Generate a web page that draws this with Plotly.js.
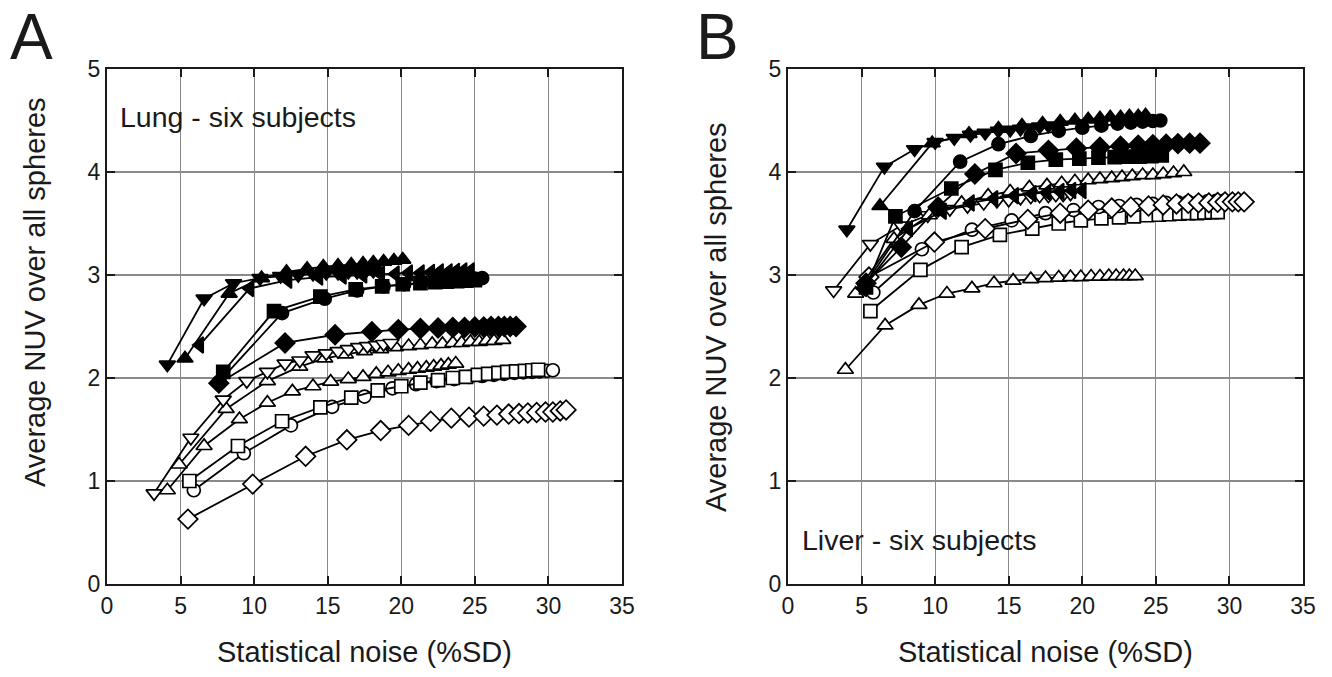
<!DOCTYPE html>
<html>
<head>
<meta charset="utf-8">
<script src="https://cdn.plot.ly/plotly-3.0.1.min.js"></script>
<style>html,body{margin:0;padding:0;background:#fff;}#chart{width:1332px;height:677px;}</style>
</head>
<body>
<div id="chart"></div>
<script>
// ---------- Panel A : Lung ----------
const lungOpenDiamondX = [5.5, 9.9, 13.5, 16.3, 18.6, 20.5, 22.0, 23.4, 24.6, 25.6, 26.5, 27.3, 28.0, 28.6, 29.2, 29.8, 30.3, 30.8, 31.2];
const lungOpenDiamondY = [0.63, 0.97, 1.24, 1.40, 1.49, 1.54, 1.58, 1.61, 1.62, 1.63, 1.64, 1.65, 1.655, 1.66, 1.665, 1.67, 1.67, 1.68, 1.69];
const lungOpenCircleX = [5.9, 9.3, 12.5, 15.3, 17.5, 19.4, 21.0, 22.4, 23.6, 24.6, 25.5, 26.3, 27.0, 27.7, 28.3, 28.9, 29.4, 29.9, 30.3];
const lungOpenCircleY = [0.91, 1.27, 1.54, 1.72, 1.82, 1.90, 1.94, 1.97, 1.99, 2.01, 2.02, 2.03, 2.04, 2.05, 2.055, 2.06, 2.065, 2.07, 2.075];
const lungOpenSquareX = [5.6, 8.9, 11.9, 14.5, 16.6, 18.4, 20.0, 21.3, 22.5, 23.5, 24.4, 25.2, 25.9, 26.6, 27.2, 27.8, 28.4, 28.9, 29.3];
const lungOpenSquareY = [1.00, 1.34, 1.58, 1.715, 1.81, 1.88, 1.92, 1.955, 1.98, 2.00, 2.01, 2.03, 2.04, 2.05, 2.06, 2.065, 2.07, 2.075, 2.08];
const lungOpenTriUpX = [4.1, 6.6, 9.0, 10.9, 12.6, 14.0, 15.2, 16.4, 17.4, 18.3, 19.1, 19.8, 20.5, 21.1, 21.7, 22.2, 22.7, 23.2, 23.7];
const lungOpenTriUpY = [0.91, 1.34, 1.60, 1.76, 1.87, 1.92, 1.965, 1.99, 2.01, 2.04, 2.055, 2.07, 2.08, 2.09, 2.10, 2.11, 2.12, 2.13, 2.14];
const lungOpenTriDownX = [3.2, 5.7, 7.9, 9.5, 10.9, 12.1, 13.1, 14.0, 14.9, 15.7, 16.4, 17.1, 17.7, 18.3, 18.8, 19.3];
const lungOpenTriDownY = [0.88, 1.42, 1.79, 1.97, 2.06, 2.14, 2.17, 2.22, 2.24, 2.26, 2.28, 2.30, 2.31, 2.32, 2.33, 2.34];
const lungOpenTriUp2X = [4.9, 8.1, 10.9, 13.1, 14.8, 16.2, 17.5, 18.6, 19.6, 20.5, 21.3, 22.1, 22.8, 23.5, 24.1, 24.7, 25.3, 25.8, 26.3, 26.9];
const lungOpenTriUp2Y = [1.16, 1.70, 1.97, 2.11, 2.19, 2.23, 2.26, 2.28, 2.30, 2.31, 2.32, 2.33, 2.33, 2.34, 2.34, 2.35, 2.35, 2.36, 2.36, 2.37];
const lungFillDiamondX = [7.6, 12.1, 15.5, 18.0, 19.8, 21.3, 22.5, 23.5, 24.3, 25.0, 25.6, 26.1, 26.6, 27.0, 27.4, 27.8];
const lungFillDiamondY = [1.95, 2.34, 2.42, 2.45, 2.47, 2.48, 2.485, 2.49, 2.49, 2.495, 2.495, 2.50, 2.50, 2.50, 2.50, 2.50];
const lungFillCircleX = [7.6, 11.9, 14.8, 17.0, 18.8, 20.2, 21.4, 22.4, 23.2, 23.9, 24.5, 25.0, 25.5];
const lungFillCircleY = [1.96, 2.63, 2.77, 2.85, 2.89, 2.91, 2.93, 2.94, 2.95, 2.955, 2.96, 2.965, 2.97];
const lungFillSquareX = [7.9, 11.35, 14.5, 16.9, 18.7, 20.1, 21.3, 22.3, 23.1, 23.8, 24.4, 25.0];
const lungFillSquareY = [2.06, 2.65, 2.79, 2.86, 2.89, 2.91, 2.92, 2.93, 2.935, 2.94, 2.945, 2.95];
const lungFillTriDownX = [4.1, 6.6, 8.6, 10.4, 11.8, 13.0, 14.0, 14.9, 15.7, 16.4, 17.0, 17.6, 18.1];
const lungFillTriDownY = [2.13, 2.77, 2.92, 2.97, 2.99, 3.00, 3.01, 3.02, 3.02, 3.03, 3.03, 3.04, 3.04];
const lungFillTriUpX = [5.3, 8.3, 10.5, 12.2, 13.6, 14.7, 15.7, 16.6, 17.4, 18.1, 18.8, 19.5, 20.1];
const lungFillTriUpY = [2.19, 2.82, 2.97, 3.03, 3.06, 3.08, 3.09, 3.10, 3.11, 3.12, 3.13, 3.14, 3.15];
const lungFillTriLeftX = [6.3, 9.7, 12.3, 14.4, 16.0, 17.4, 18.6, 19.6, 20.5, 21.3, 22.0, 22.6, 23.2, 23.7, 24.2, 24.7];
const lungFillTriLeftY = [2.32, 2.87, 2.95, 2.98, 2.99, 3.00, 3.01, 3.01, 3.02, 3.02, 3.025, 3.03, 3.03, 3.035, 3.04, 3.04];

// ---------- Panel B : Liver ----------
const liverOpenTriDownX = [3.1, 5.6, 7.7, 9.5, 11.0, 12.2, 13.3, 14.2, 15.0, 15.8, 16.5, 17.1, 17.7, 18.2, 18.7, 19.2];
const liverOpenTriDownY = [2.85, 3.30, 3.48, 3.58, 3.64, 3.67, 3.70, 3.72, 3.73, 3.75, 3.76, 3.77, 3.77, 3.78, 3.78, 3.79];
const liverOpenTriUpX = [3.9, 6.6, 8.9, 10.8, 12.5, 14.0, 15.3, 16.5, 17.5, 18.4, 19.2, 19.9, 20.6, 21.2, 21.8, 22.3, 22.8, 23.2, 23.6];
const liverOpenTriUpY = [2.08, 2.51, 2.71, 2.82, 2.87, 2.92, 2.945, 2.96, 2.97, 2.975, 2.98, 2.98, 2.985, 2.985, 2.99, 2.99, 2.99, 2.99, 2.99];
const liverOpenSquareX = [5.6, 9.0, 11.8, 14.4, 16.6, 18.4, 19.9, 21.3, 22.5, 23.5, 24.4, 25.2, 25.9, 26.6, 27.2, 27.8, 28.3, 28.8, 29.2];
const liverOpenSquareY = [2.65, 3.05, 3.27, 3.39, 3.45, 3.50, 3.53, 3.55, 3.56, 3.57, 3.58, 3.585, 3.59, 3.595, 3.60, 3.60, 3.605, 3.61, 3.61];
const liverOpenCircleX = [5.8, 9.1, 12.5, 15.2, 17.5, 19.4, 21.1, 22.5, 23.7, 24.8, 25.7, 26.5, 27.2, 27.9, 28.5, 29.1, 29.6];
const liverOpenCircleY = [2.83, 3.25, 3.44, 3.53, 3.60, 3.63, 3.66, 3.67, 3.68, 3.69, 3.70, 3.705, 3.71, 3.71, 3.715, 3.72, 3.72];
const liverOpenDiamondX = [5.5, 9.95, 13.4, 16.3, 18.5, 20.4, 22.0, 23.3, 24.5, 25.5, 26.4, 27.2, 27.9, 28.6, 29.2, 29.7, 30.2, 30.6, 31.0];
const liverOpenDiamondY = [2.98, 3.32, 3.45, 3.54, 3.60, 3.63, 3.65, 3.66, 3.67, 3.68, 3.69, 3.695, 3.70, 3.70, 3.705, 3.71, 3.71, 3.71, 3.71];
const liverOpenTriUp2X = [4.6, 7.2, 9.6, 11.8, 13.6, 15.1, 16.4, 17.6, 18.6, 19.5, 20.4, 21.2, 22.0, 22.7, 23.4, 24.1, 24.8, 25.5, 26.2, 26.9];
const liverOpenTriUp2Y = [2.82, 3.35, 3.58, 3.70, 3.77, 3.81, 3.85, 3.87, 3.89, 3.91, 3.92, 3.93, 3.94, 3.95, 3.96, 3.97, 3.97, 3.98, 3.99, 4.00];
const liverFillTriDownX = [4.0, 6.55, 8.6, 10.0, 11.3, 12.4, 13.4, 14.3, 15.1, 15.8, 16.5, 17.1, 17.7];
const liverFillTriDownY = [3.44, 4.05, 4.22, 4.29, 4.33, 4.36, 4.38, 4.40, 4.41, 4.42, 4.43, 4.44, 4.45];
const liverFillTriUpX = [6.25, 9.8, 12.3, 14.3, 15.9, 17.3, 18.5, 19.5, 20.4, 21.2, 21.9, 22.6, 23.2, 23.8, 24.3];
const liverFillTriUpY = [3.67, 4.28, 4.37, 4.42, 4.45, 4.47, 4.49, 4.50, 4.51, 4.52, 4.53, 4.53, 4.54, 4.54, 4.55];
const liverFillCircleX = [5.2, 8.6, 11.7, 14.3, 16.5, 18.4, 20.0, 21.3, 22.4, 23.3, 24.1, 24.8, 25.3];
const liverFillCircleY = [2.90, 3.62, 4.10, 4.27, 4.35, 4.40, 4.43, 4.45, 4.47, 4.48, 4.49, 4.495, 4.50];
const liverFillDiamondX = [5.3, 7.7, 10.2, 12.7, 15.5, 17.7, 19.6, 21.2, 22.6, 23.8, 24.8, 25.7, 26.5, 27.3, 28.0];
const liverFillDiamondY = [2.92, 3.27, 3.66, 3.98, 4.18, 4.21, 4.23, 4.24, 4.25, 4.26, 4.265, 4.27, 4.275, 4.28, 4.28];
const liverFillSquareX = [5.3, 7.3, 11.1, 14.1, 16.3, 18.2, 19.8, 21.1, 22.2, 23.1, 23.9, 24.7, 25.4];
const liverFillSquareY = [2.88, 3.57, 3.84, 4.02, 4.09, 4.12, 4.13, 4.14, 4.145, 4.15, 4.15, 4.155, 4.16];
const liverFillTriLeftX = [5.1, 8.2, 10.5, 12.4, 14.0, 15.4, 16.6, 17.6, 18.5, 19.3, 20.0];
const liverFillTriLeftY = [2.87, 3.45, 3.62, 3.70, 3.74, 3.77, 3.79, 3.80, 3.81, 3.82, 3.82];

// tick labels / texts
const xTickVals = [0, 5, 10, 15, 20, 25, 30, 35];
const yTickVals = [0, 1, 2, 3, 4, 5];
const xTitle = 'Statistical noise (%SD)';
const yTitle = 'Average NUV over all spheres';
const panelLabels = ['A', 'B'];
const panelNotes = ['Lung - six subjects', 'Liver - six subjects'];

// ---------- build traces ----------
const W = 1332, H = 677;
const SIZE = {circle: 13, square: 13, diamond: 15, 'triangle-up': 14, 'triangle-down': 14, 'triangle-left': 14};
function mk(x, y, symbol, open, xa, ya) {
  return {
    x: x, y: y, xaxis: xa, yaxis: ya, type: 'scatter', mode: 'lines+markers',
    line: {color: '#000', width: 1.8},
    marker: {symbol: symbol, size: SIZE[symbol], color: open ? '#fff' : '#000',
             line: {color: '#000', width: 1.7}},
    hoverinfo: 'x+y', showlegend: false
  };
}
const traces = [
  mk(lungOpenDiamondX, lungOpenDiamondY, 'diamond', true, 'x', 'y'),
  mk(lungOpenCircleX, lungOpenCircleY, 'circle', true, 'x', 'y'),
  mk(lungOpenSquareX, lungOpenSquareY, 'square', true, 'x', 'y'),
  mk(lungOpenTriUpX, lungOpenTriUpY, 'triangle-up', true, 'x', 'y'),
  mk(lungOpenTriUp2X, lungOpenTriUp2Y, 'triangle-up', true, 'x', 'y'),
  mk(lungOpenTriDownX, lungOpenTriDownY, 'triangle-down', true, 'x', 'y'),
  mk(lungFillDiamondX, lungFillDiamondY, 'diamond', false, 'x', 'y'),
  mk(lungFillCircleX, lungFillCircleY, 'circle', false, 'x', 'y'),
  mk(lungFillSquareX, lungFillSquareY, 'square', false, 'x', 'y'),
  mk(lungFillTriLeftX, lungFillTriLeftY, 'triangle-left', false, 'x', 'y'),
  mk(lungFillTriDownX, lungFillTriDownY, 'triangle-down', false, 'x', 'y'),
  mk(lungFillTriUpX, lungFillTriUpY, 'triangle-up', false, 'x', 'y'),

  mk(liverOpenTriUpX, liverOpenTriUpY, 'triangle-up', true, 'x2', 'y2'),
  mk(liverOpenSquareX, liverOpenSquareY, 'square', true, 'x2', 'y2'),
  mk(liverOpenCircleX, liverOpenCircleY, 'circle', true, 'x2', 'y2'),
  mk(liverOpenDiamondX, liverOpenDiamondY, 'diamond', true, 'x2', 'y2'),
  mk(liverOpenTriDownX, liverOpenTriDownY, 'triangle-down', true, 'x2', 'y2'),
  mk(liverOpenTriUp2X, liverOpenTriUp2Y, 'triangle-up', true, 'x2', 'y2'),
  mk(liverFillTriLeftX, liverFillTriLeftY, 'triangle-left', false, 'x2', 'y2'),
  mk(liverFillSquareX, liverFillSquareY, 'square', false, 'x2', 'y2'),
  mk(liverFillDiamondX, liverFillDiamondY, 'diamond', false, 'x2', 'y2'),
  mk(liverFillCircleX, liverFillCircleY, 'circle', false, 'x2', 'y2'),
  mk(liverFillTriDownX, liverFillTriDownY, 'triangle-down', false, 'x2', 'y2'),
  mk(liverFillTriUpX, liverFillTriUpY, 'triangle-up', false, 'x2', 'y2')
];

const FONT = 'Liberation Sans, Arial, Helvetica, sans-serif';
function axisCommon() {
  return {
    showgrid: true, gridcolor: '#8a8a8a', gridwidth: 1.2, zeroline: false,
    showline: true, linecolor: '#1a1a1a', linewidth: 2, mirror: 'ticks',
    ticks: 'inside', ticklen: 8, tickwidth: 2, tickcolor: '#1a1a1a',
    tickfont: {family: FONT, size: 23, color: '#1a1a1a'}, fixedrange: true
  };
}
function xAxis(domain, anchor) {
  return Object.assign(axisCommon(), {domain: domain, anchor: anchor, range: [0, 35], tickvals: xTickVals});
}
function yAxis(domain, anchor) {
  return Object.assign(axisCommon(), {domain: domain, anchor: anchor, range: [0, 5], tickvals: yTickVals});
}
const yDom = [1 - 584 / H, 1 - 69 / H];
const ann = (text, px, py, size, extra) => Object.assign({
  text: text, xref: 'paper', yref: 'paper', x: px / W, y: 1 - py / H,
  showarrow: false, xanchor: 'center', yanchor: 'middle',
  font: {family: FONT, size: size, color: '#1a1a1a'}
}, extra || {});

const layout = {
  width: W, height: H, margin: {l: 0, r: 0, t: 0, b: 0},
  paper_bgcolor: '#fff', plot_bgcolor: '#fff', showlegend: false,
  xaxis: xAxis([107 / W, 622 / W], 'y'),
  yaxis: yAxis(yDom, 'x'),
  xaxis2: xAxis([788 / W, 1303 / W], 'y2'),
  yaxis2: yAxis(yDom, 'x2'),
  annotations: [
    ann(panelLabels[0], 31, 37, 64),
    ann(panelLabels[1], 717, 37, 64),
    ann(panelNotes[0], 118, 117, 28.5, {xanchor: 'left'}),
    ann(panelNotes[1], 800, 540, 28.5, {xanchor: 'left'}),
    ann(xTitle, 364, 652, 29),
    ann(xTitle, 1045, 652, 29),
    ann(yTitle, 35, 292, 29, {textangle: -90}),
    ann(yTitle, 716, 317, 29, {textangle: -90})
  ]
};
Plotly.newPlot('chart', traces, layout, {staticPlot: true, displayModeBar: false});
</script>
</body>
</html>
